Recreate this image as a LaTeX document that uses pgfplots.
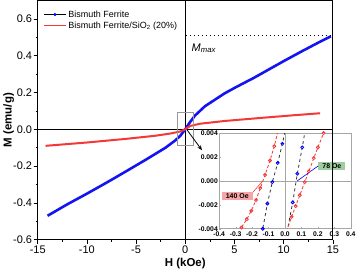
\documentclass[border=0pt]{standalone}
\usepackage{pgfplots}
\pgfplotsset{compat=1.18}
\usepackage{fontspec}
\setmainfont{Liberation Sans}
\usetikzlibrary{arrows.meta}
\definecolor{myblue}{RGB}{20,20,240}
\definecolor{myred}{RGB}{245,55,55}
\definecolor{boxred}{RGB}{245,165,165}
\definecolor{boxgreen}{RGB}{160,205,160}
\begin{document}
\begin{tikzpicture}
\begin{axis}[name=main, at={(0,0)}, anchor=south west,
  width=296pt, height=240pt, scale only axis,
  xmin=-15, xmax=15, ymin=-0.6, ymax=0.7,
  xtick={-15,-10,-5,0,5,10,15},
  ytick={-0.6,-0.4,-0.2,0,0.2,0.4,0.6},
  minor x tick num=1, minor y tick num=1,
  tick align=outside, xtick pos=left, ytick pos=left,
  major tick length=4pt, minor tick length=2pt,
  tick style={black, line width=0.6pt},
  axis line style={black, line width=0.8pt},
  /pgf/number format/assume math mode=true,
  ticklabel style={font=\fontsize{11}{12}\selectfont},
  xticklabel style={inner sep=2pt},
  yticklabel style={inner sep=1.5pt, /pgf/number format/.cd, fixed, fixed zerofill, precision=1},
  xlabel={\textbf{H (kOe)}}, ylabel={\textbf{M (emu/g)}},
  label style={font=\fontsize{11.5}{12}\selectfont},
  xlabel style={yshift=1pt},
  ylabel style={yshift=-6pt},
  legend cell align=left,
  legend style={at={(0.012,0.975)}, anchor=north west, draw=none, fill=none,
    font=\fontsize{9}{10}\selectfont, inner xsep=2pt, inner ysep=2pt, row sep=-1pt},
]
\addlegendimage{legend image code/.code={
  \draw[black, line width=1.4pt] (0cm,0cm) -- (0.75cm,0cm);
  \fill[blue] (0.375cm,0cm) circle (1.3pt);}}
\addlegendentry{Bismuth Ferrite}
\addlegendimage{legend image code/.code={
  \draw[myred, line width=1.8pt] (0cm,0cm) -- (0.75cm,0cm);}}
\addlegendentry{Bismuth Ferrite/SiO\textsubscript{2} (20\%)}
\draw[black, line width=0.7pt] (axis cs:0,-0.6) -- (axis cs:0,0.7);
\draw[black, line width=0.7pt] (axis cs:-15,0) -- (axis cs:15,0);
\addplot[myblue, line width=2.6pt, forget plot] coordinates {
(-14,-0.47) (-12,-0.408) (-10,-0.35) (-8,-0.29) (-6,-0.228) (-4,-0.165)
(-2,-0.1) (-1,-0.06) (-0.5,-0.035) (0,0) (0.5,0.04) (1,0.075) (2,0.125)
(3,0.16) (4,0.195) (5.2,0.23) (7,0.28) (8.5,0.325) (10,0.37) (11.9,0.425)
(13.5,0.47) (14.8,0.505)};
\addplot[myred, line width=2pt, forget plot] coordinates {
(-14.2,-0.09) (-10,-0.072) (-6,-0.052) (-3,-0.035) (-1.5,-0.023) (-0.5,-0.012)
(0,0) (0.5,0.018) (1.5,0.03) (4,0.045) (8,0.063) (11,0.076) (13.7,0.087)};
\draw[black, line width=1.1pt, dash pattern=on 1.2pt off 2.8pt] (axis cs:0.1,0.508) -- (axis cs:14.8,0.508);
\node[anchor=west, font=\fontsize{11}{12}\selectfont] at (axis cs:0.3,0.44) {\textit{M}\textsubscript{\textit{max}}};
\draw[gray!80, line width=0.6pt] (axis cs:-0.8,-0.086) rectangle (axis cs:0.8,0.092);
\draw[black, line width=0.8pt, -{Stealth[length=5pt,width=4pt]}] (axis cs:0.2,-0.005) -- (axis cs:1.7,-0.114);
\end{axis}
\begin{axis}[at={(182pt,11pt)}, anchor=south west,
  width=132pt, height=96pt, scale only axis,
  xmin=-0.4, xmax=0.4, ymin=-0.004, ymax=0.004,
  xtick={-0.4,-0.3,-0.2,-0.1,0,0.1,0.2,0.3,0.4},
  ytick={-0.004,-0.002,0,0.002,0.004},
  scaled y ticks=false, scaled x ticks=false,
  axis background/.style={fill=white},
  axis line style={gray!70, line width=0.6pt},
  tick style={gray!70}, major tick length=2pt, tick align=inside,
  xtick pos=left, ytick pos=left,
  /pgf/number format/assume math mode=true,
  ticklabel style={font=\fontsize{6.8}{7}\selectfont\bfseries},
  xticklabel style={inner sep=1.5pt, yshift=-1.5pt, /pgf/number format/.cd, fixed, fixed zerofill, precision=1},
  yticklabel style={inner xsep=1.2pt, inner ysep=0pt, /pgf/number format/.cd, fixed, fixed zerofill, precision=3},
]
\draw[gray!70, line width=0.6pt] (axis cs:0,-0.004) -- (axis cs:0,0.004);
\draw[gray!70, line width=0.6pt] (axis cs:-0.4,0) -- (axis cs:0.4,0);
% black branches with blue markers
\addplot[black!80, line width=0.8pt, dash pattern=on 3pt off 3pt, mark=halfcircle*, mark size=1.5pt, mark options={solid, draw=blue, fill=blue}] coordinates {
(-0.15,-0.0049) (-0.135,-0.004) (-0.107,-0.0019) (-0.077,-0.0001) (-0.044,0.0015) (-0.016,0.0031) (0.01,0.0047)};
\addplot[black!80, line width=0.8pt, dash pattern=on 3pt off 3pt, mark=halfcircle*, mark size=1.5pt, mark options={solid, draw=blue, fill=blue}] coordinates {
(0.005,-0.0048) (0.047,-0.0018) (0.075,0.0006) (0.105,0.0028) (0.13,0.0048)};
% red branches
\addplot[myred, line width=0.8pt, dash pattern=on 3pt off 2pt, mark=halfcircle*, mark size=1.5pt, mark options={solid, draw=myred, fill=myred}] coordinates {
(-0.3,-0.005) (-0.265,-0.0039) (-0.232,-0.0032) (-0.205,-0.0025) (-0.176,-0.0016) (-0.15,-0.0006) (-0.121,0.0005) (-0.091,0.0017) (-0.065,0.0029) (-0.035,0.0046)};
\addplot[myred, line width=0.8pt, dash pattern=on 3pt off 2pt, mark=halfcircle*, mark size=1.5pt, mark options={solid, draw=myred, fill=myred}] coordinates {
(0.0,-0.0046) (0.04,-0.003) (0.065,-0.0021) (0.09,-0.0012) (0.12,-0.0001) (0.145,0.0008) (0.175,0.0019) (0.2,0.0028) (0.235,0.004) (0.26,0.0049)};
\node[fill=boxred, font=\fontsize{7}{8}\selectfont\bfseries, inner xsep=4pt, inner ysep=1.5pt] (a) at (axis cs:-0.29,-0.0013) {140 Oe};
\draw[myred, line width=0.6pt] (a.north east) -- (axis cs:-0.135,0);
\node[fill=boxgreen, font=\fontsize{7}{8}\selectfont\bfseries, inner xsep=4pt, inner ysep=1.5pt] (b) at (axis cs:0.285,0.00125) {78 Oe};
\draw[blue, line width=0.6pt] (b.west) -- (axis cs:0.075,0.0);
\end{axis}
\draw[black, line width=0.8pt] (main.north east) -- (main.south east);
\end{tikzpicture}
\end{document}
